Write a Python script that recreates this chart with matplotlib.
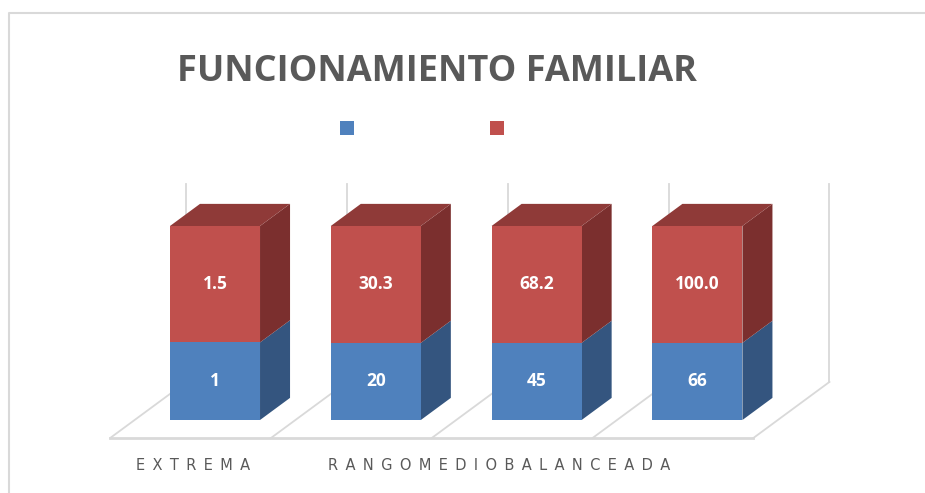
import matplotlib
matplotlib.use("Agg")
import matplotlib.pyplot as plt
from matplotlib.patches import Polygon, Rectangle
from matplotlib.lines import Line2D

# ---- data ----
categories = ["EXTREMA", "RANGO MEDIO", "BALANCEADA", "TOTAL"]
serie_azul = [1, 20, 45, 66]
serie_roja = [1.5, 30.3, 68.2, 100.0]
title = "FUNCIONAMIENTO FAMILIAR"
axis_labels = ["EXTREMA", "RANGOMEDIOBALANCEADA"]

# ---- style ----
W, H = 925, 493
BLUE_F, BLUE_S = "#4f81bd", "#34557f"
RED_F, RED_S, RED_T = "#c0504d", "#7b2f2e", "#8f3a38"
GRID = "#d9d9d9"
TXT = "#595959"

fig = plt.figure(figsize=(W / 100, H / 100), dpi=100)
ax = fig.add_axes([0, 0, 1, 1])
ax.axis("off")

# data mapping (category units, percent units)
PX_CAT, PX_PCT = 160.8, 1.94
X0PX, Y0PX = 215, 420
ax.set_xlim(-X0PX / PX_CAT, (W - X0PX) / PX_CAT)
ax.set_ylim((Y0PX - H) / PX_PCT, Y0PX / PX_PCT)

DDX, DDY = 76 / PX_CAT, 56 / PX_PCT   # one unit of depth
D_FRONT, D_BACK = -0.32, 0.68          # floor depth span
D_BAR = 0.395                          # bar depth
HW = 0.28                              # half width of bar


def P(i, v, d):
    return (i + d * DDX, v + d * DDY)


n = len(categories)
# back wall vertical lines
for b in [k - 0.5 for k in range(n + 1)]:
    x0, y0 = P(b, 0, D_BACK)
    x1, y1 = P(b, 102, D_BACK)
    ax.add_line(Line2D([x0, x1], [y0, y1], color=GRID, lw=1.3, zorder=1))
# floor diagonals
for b in [k - 0.5 for k in range(n + 1)]:
    x0, y0 = P(b, 0, D_FRONT)
    x1, y1 = P(b, 0, D_BACK)
    ax.add_line(Line2D([x0, x1], [y0, y1], color=GRID, lw=1.3, zorder=1))
# floor front edge
xa, ya = P(-0.5, 0, D_FRONT)
xb, yb = P(n - 0.5, 0, D_FRONT)
ax.add_line(Line2D([xa, xb], [ya, yb], color=GRID, lw=2, zorder=1))

# bars (100% stacked)
for k in range(n):
    tot = serie_azul[k] + serie_roja[k]
    split = serie_azul[k] / tot * 100
    segs = [(0, split, BLUE_F, BLUE_S, serie_azul[k], "{:g}"),
            (split, 100, RED_F, RED_S, serie_roja[k], "{:.1f}")]
    for lo, hi, cf, cs, val, fmt in segs:
        front = [P(k - HW, lo, 0), P(k + HW, lo, 0), P(k + HW, hi, 0), P(k - HW, hi, 0)]
        side = [P(k + HW, lo, 0), P(k + HW, lo, D_BAR), P(k + HW, hi, D_BAR), P(k + HW, hi, 0)]
        ax.add_patch(Polygon(side, closed=True, fc=cs, ec="none", zorder=3))
        ax.add_patch(Polygon(front, closed=True, fc=cf, ec="none", zorder=3))
        ax.text(k, (lo + hi) / 2, fmt.format(val), color="white", fontsize=12.5,
                fontweight="bold", family="Open Sans", ha="center", va="center", zorder=5)
    top = [P(k - HW, 100, 0), P(k + HW, 100, 0), P(k + HW, 100, D_BAR), P(k - HW, 100, D_BAR)]
    ax.add_patch(Polygon(top, closed=True, fc=RED_T, ec="none", zorder=3))

# title
fig.text(437 / W, 1 - 72 / H, title, fontsize=26, fontweight="bold", family="Open Sans",
         color=TXT, ha="center", va="center")

# legend squares (no text)
for xl, c in [(340, BLUE_F), (490, RED_F)]:
    fig.patches.append(Rectangle((xl / W, 1 - 135 / H), 14 / W, 14 / H,
                                 transform=fig.transFigure, fc=c, ec="none"))

# axis labels (wide letter spacing)
for lab, xc in zip(axis_labels, [193.5, 499]):
    fig.text(xc / W, 1 - 466 / H, "\u2002".join(lab), fontsize=10.5, family="DejaVu Sans",
             color=TXT, ha="center", va="center")

# chart border
fig.lines.append(Line2D([9 / W, 9 / W, 1], [0, 1 - 13 / H, 1 - 13 / H],
                        transform=fig.transFigure, color=GRID, lw=1.5))

fig.savefig("out.png", dpi=100)
